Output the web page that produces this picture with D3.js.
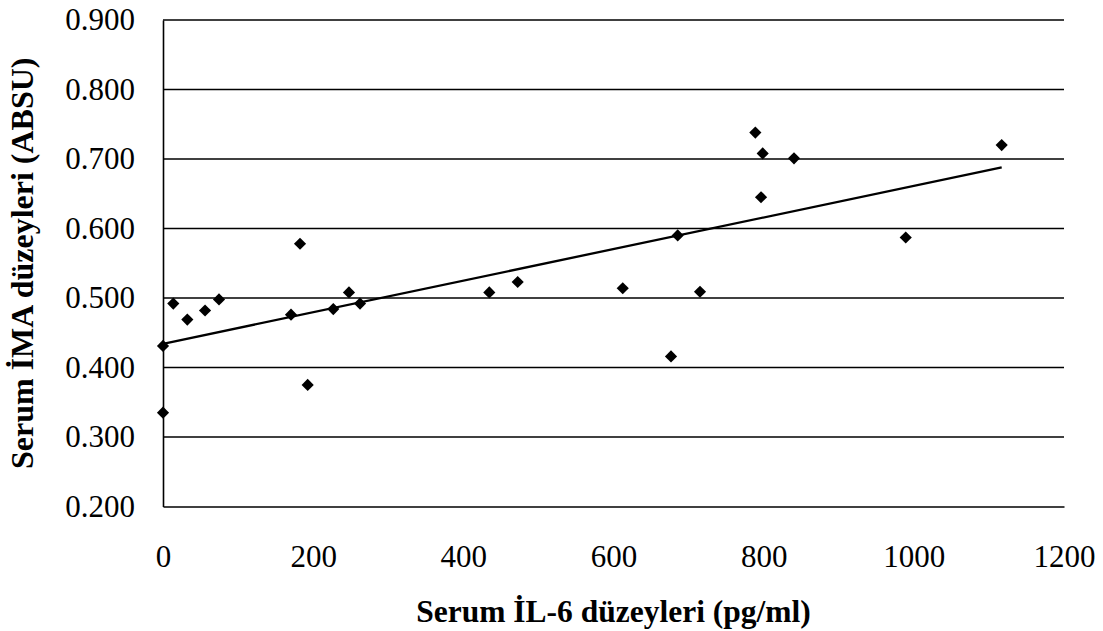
<!DOCTYPE html>
<html>
<head>
<meta charset="utf-8">
<script src="https://cdn.jsdelivr.net/npm/d3@7"></script>
<style>
  body { margin: 0; background: #fff; }
  svg text { font-family: "Liberation Serif", "Times New Roman", serif !important; fill: #000; }
</style>
</head>
<body>
<div id="chart"></div>
<script>
// Data: serum IL-6 (pg/ml) vs serum IMA (ABSU)
const il6 = [0, 0, 13.7, 32.4, 56, 74.6, 170.5, 182.5, 192.7, 226.8, 247.7, 262.4,
  434.6, 472.4, 612.3, 685.5, 715.2, 676.6, 788.9, 798.7, 796.5, 840.4, 989.2, 1117];
const ima = [0.335, 0.431, 0.492, 0.469, 0.482, 0.498, 0.476, 0.578, 0.375, 0.484, 0.508, 0.492,
  0.508, 0.523, 0.514, 0.590, 0.509, 0.416, 0.738, 0.708, 0.645, 0.701, 0.587, 0.720];
const xTicks = [0, 200, 400, 600, 800, 1000, 1200];
const yTicks = [0.2, 0.3, 0.4, 0.5, 0.6, 0.7, 0.8, 0.9];
const xTitle = "Serum İL-6 düzeyleri (pg/ml)";
const yTitle = "Serum İMA düzeyleri (ABSU)";

const width = 1103;
const height = 631;
const margin = { top: 20, right: 39, bottom: 124.5, left: 163 };

const svg = d3.select("#chart").append("svg")
  .attr("width", width)
  .attr("height", height);

const x = d3.scaleLinear().domain([0, 1200]).range([margin.left, width - margin.right]);
const y = d3.scaleLinear().domain([0.2, 0.9]).range([height - margin.bottom, margin.top]);

// horizontal gridlines
svg.append("g")
  .selectAll("line")
  .data(yTicks.slice(1))
  .join("line")
  .attr("x1", x(0))
  .attr("x2", x(1200))
  .attr("y1", d => y(d))
  .attr("y2", d => y(d))
  .attr("stroke", "#000")
  .attr("stroke-width", 1.4);

// y axis
svg.append("g")
  .attr("transform", `translate(${x(0)},0)`)
  .call(d3.axisLeft(y).tickValues(yTicks).tickFormat(d3.format(".3f")).tickSize(0).tickPadding(28))
  .call(g => g.select(".domain").attr("stroke", "#000").attr("stroke-width", 1.6))
  .selectAll("text")
  .attr("font-size", "31px");

// x axis
svg.append("g")
  .attr("transform", `translate(0,${y(0.2)})`)
  .call(d3.axisBottom(x).tickValues(xTicks).tickFormat(d3.format("d")).tickSize(0).tickPadding(38))
  .call(g => g.select(".domain").attr("stroke", "#000").attr("stroke-width", 1.6))
  .selectAll("text")
  .attr("font-size", "31px");

// linear trendline (least squares)
const mx = d3.mean(il6), my = d3.mean(ima);
const slope = d3.sum(il6, (v, i) => (v - mx) * (ima[i] - my)) / d3.sum(il6, v => (v - mx) ** 2);
const intercept = my - slope * mx;
const xr = d3.extent(il6);
svg.append("line")
  .attr("x1", x(xr[0]))
  .attr("x2", x(xr[1]))
  .attr("y1", y(intercept + slope * xr[0]))
  .attr("y2", y(intercept + slope * xr[1]))
  .attr("stroke", "#000")
  .attr("stroke-width", 2.3);

// diamond markers
const diamond = d3.symbol().type(d3.symbolSquare).size(74);
svg.append("g")
  .selectAll("path")
  .data(il6.map((v, i) => [v, ima[i]]))
  .join("path")
  .attr("d", diamond)
  .attr("transform", d => `translate(${x(d[0])},${y(d[1])}) rotate(45)`)
  .attr("fill", "#000");

// axis titles
svg.append("text")
  .attr("x", (x(0) + x(1200)) / 2)
  .attr("y", 622)
  .attr("text-anchor", "middle")
  .attr("font-size", "31.5px")
  .attr("font-weight", "bold")
  .text(xTitle);

svg.append("text")
  .attr("transform", `translate(33,${(y(0.2) + y(0.9)) / 2}) rotate(-90)`)
  .attr("text-anchor", "middle")
  .attr("font-size", "32px")
  .attr("font-weight", "bold")
  .text(yTitle);
</script>
</body>
</html>
